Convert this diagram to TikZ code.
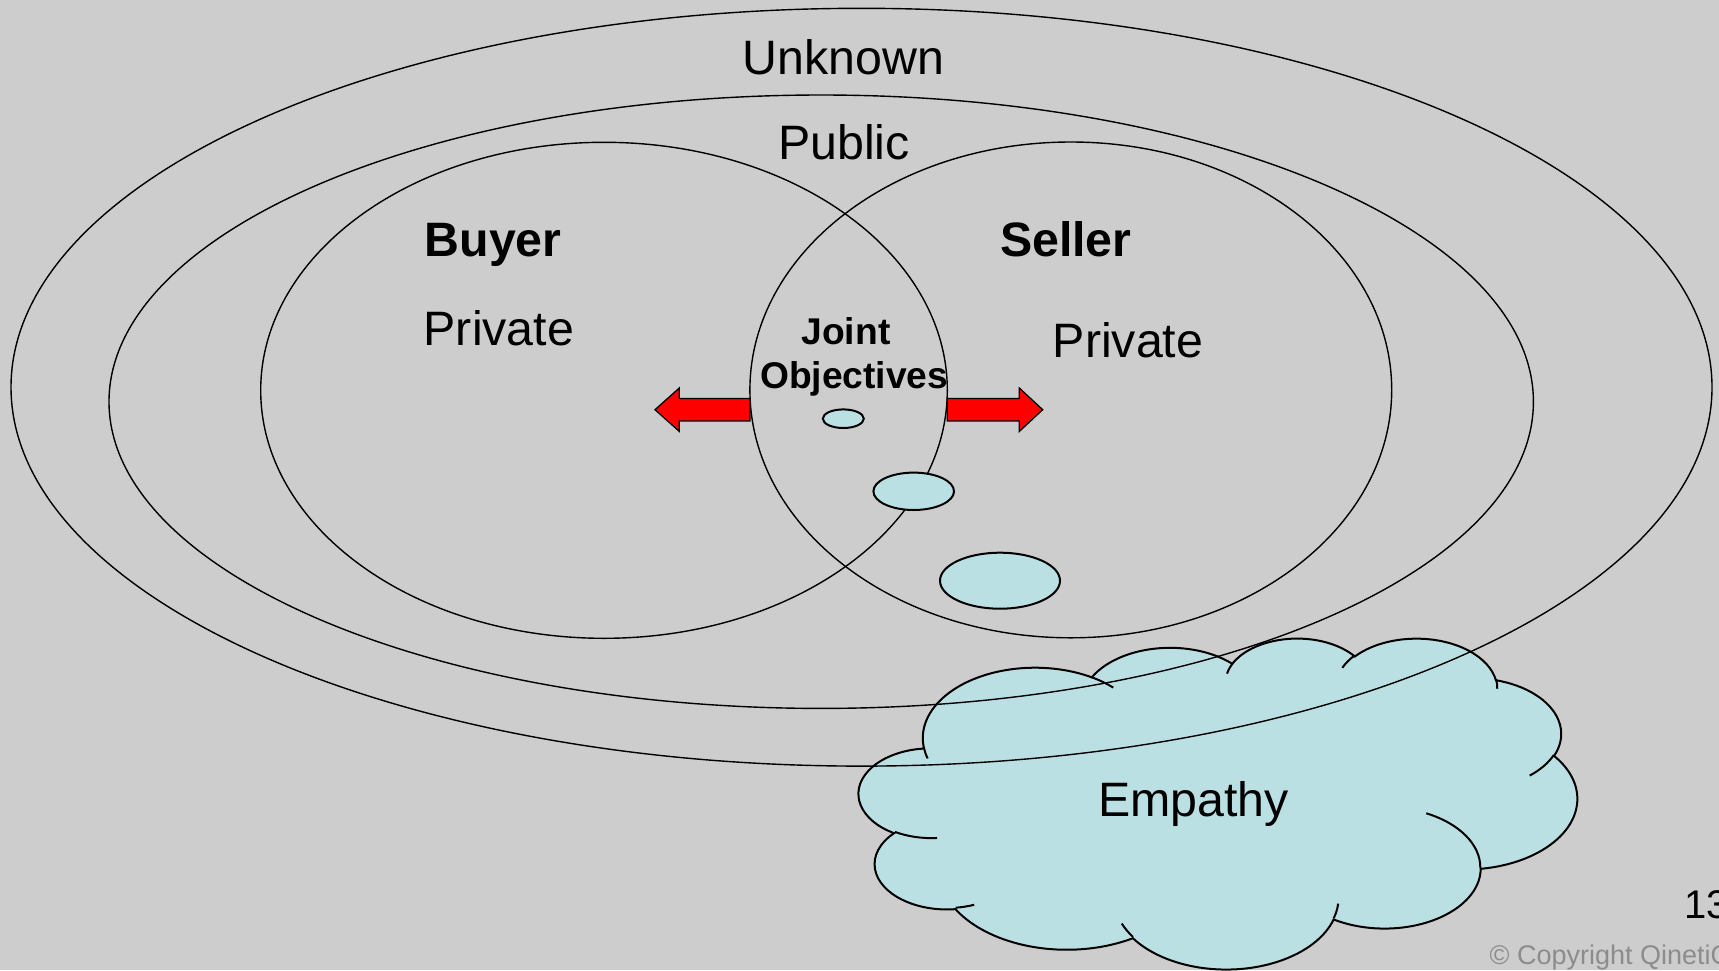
\documentclass[tikz,border=0pt]{standalone}
\usepackage{fontspec}
\setmainfont{Liberation Sans}
\definecolor{bggray}{RGB}{205,205,205}
\definecolor{cloudblue}{RGB}{187,224,228}
\definecolor{copygray}{RGB}{140,140,140}
\newcommand\fsz[1]{\fontsize{#1}{#1}\selectfont}
\tikzset{
  varc/.style n args={4}{/utils/exec={%
      \pgfmathsetmacro\vaS{atan2((#1)*sin(#3),(#2)*cos(#3))}%
      \pgfmathsetmacro\vaE{atan2((#1)*sin((#3)+(#4)),(#2)*cos((#3)+(#4)))}%
      \pgfmathsetmacro\vaD{mod(\vaE-\vaS+720,360)}%
      \global\let\vaS\vaS\global\let\vaD\vaD},
    x radius=#1, y radius=#2, start angle=\vaS, delta angle=\vaD},
  ring/.style={draw=black, line width=1.4pt},
  bubble/.style={draw=black, fill=cloudblue, line width=2pt},
  cloudline/.style={draw=black, line width=2pt},
  redarrow/.style={draw=black, fill=red, line width=1.3pt, line join=miter},
  txt/.style={inner sep=0pt, text=black},
  bigtxt/.style={txt, font=\fsz{48.3}},
  bigbold/.style={txt, font=\fsz{48.3}\bfseries},
  jointtxt/.style={txt, font=\fsz{37.2}\bfseries},
}
\begin{document}
\begin{tikzpicture}[x=1pt, y=-1pt]
\useasboundingbox (0,0) rectangle (1719,970);
\fill[bggray] (0,0) rectangle (1719,970);

% cloud (Empathy)
\begin{scope}[shift={(859,637.5)}, x=0.16621pt, y=-0.07659pt]
\path[bubble] (390,1437)
  arc[varc={675.3}{919.0}{-190.4875}{123.7805}]
  arc[varc={533.3}{726.7}{-144.1024}{89.9452}]
  arc[varc={436.5}{594.5}{-145.8079}{99.7230}]
  arc[varc={485.7}{659.5}{-130.9861}{117.2417}]
  arc[varc={533.3}{727.3}{-78.7089}{109.0269}]
  arc[varc={677.5}{922.0}{-46.2673}{130.2690}]
  arc[varc={578.5}{786.7}{0.6250}{114.0333}]
  arc[varc={675.2}{921.5}{22.4516}{115.1726}]
  arc[varc={772.0}{1054.3}{66.2426}{75.7110}]
  arc[varc={436.0}{591.8}{-274.9421}{146.7356}]
  arc[varc={434.5}{594.5}{-246.8285}{152.5189}]
  -- cycle;
\path[cloudline] (469.3,2617.7) arc[varc={434.5}{594.5}{86.742}{26.430}]
  (692.8,3489.9) arc[varc={436.0}{591.8}{73.610}{11.447}]
  (1647.8,3909.0) arc[varc={675.2}{921.5}{137.624}{14.081}]
  (2882.7,3475.1) arc[varc={675.2}{921.5}{6.453}{15.998}]
  (3412.9,2295.4) arc[varc={578.5}{786.7}{-70.292}{70.917}]
  (4179.8,1535.4) arc[varc={533.3}{727.3}{30.318}{27.752}]
  (3832.4,542.6) arc[varc={485.7}{659.5}{-13.744}{14.859}]
  (2907.8,395.2) arc[varc={485.7}{659.5}{-149.181}{18.195}]
  (2214.1,472.0) arc[varc={436.5}{594.5}{-163.494}{17.686}]
  (1400.0,519.2) arc[varc={675.3}{919.0}{-66.707}{12.319}]
  (412.7,1578.9) arc[varc={675.3}{919.0}{157.654}{11.858}];
\end{scope}

% rings
\draw[ring] (861.5,387.2) ellipse [x radius=850.5, y radius=378.9];
\draw[ring] (821.2,401.7) ellipse [x radius=712.2, y radius=306.7];
\draw[ring] (604.0,390.3) ellipse [x radius=343.3, y radius=248.0];
\draw[ring] (1070.8,389.9) ellipse [x radius=320.9, y radius=247.9];

% red arrows
\draw[redarrow] (750,398.5) -- (679.3,398.5) -- (679.3,388.0) -- (655,409.7)
  -- (679.3,431.4) -- (679.3,420.9) -- (750,420.9) -- cycle;
\draw[redarrow] (947.3,398.5) -- (1019.3,398.5) -- (1019.3,388.0) -- (1042.7,409.7)
  -- (1019.3,431.4) -- (1019.3,420.9) -- (947.3,420.9) -- cycle;

% bubbles
\draw[bubble] (843.3,418.7) ellipse [x radius=20.5, y radius=9.3];
\draw[bubble] (913.7,491.3) ellipse [x radius=40.3, y radius=18.7];
\draw[bubble] (1000.0,580.7) ellipse [x radius=60.0, y radius=28.0];

% texts
\node[bigtxt, anchor=base] (unknown) at (843.3,74) {Unknown};
\node[bigtxt, anchor=base] (public) at (844,159.3) {Public};
\node[bigbold, anchor=base west] (buyer) at (424.5,256) {Buyer};
\node[bigtxt, anchor=base west] (bpriv) at (423.5,345.7) {Private};
\node[bigbold, anchor=base west] (seller) at (999.8,256) {Seller};
\node[bigtxt, anchor=base west] (spriv) at (1052.7,357.3) {Private};
\node[jointtxt, anchor=base] (joint) at (846,344) {Joint};
\node[jointtxt, anchor=base] (objectives) at (854.2,388.3) {Objectives};
\node[bigtxt, anchor=base] (empathy) at (1193.7,816) {Empathy};
\node[txt, font=\fsz{40}, anchor=base west] (pagenum) at (1684,918) {13};
\node[txt, font=\fsz{27}, text=copygray, anchor=base west] (copyright) at (1489.5,964) {© Copyright QinetiQ};
\end{tikzpicture}
\end{document}
